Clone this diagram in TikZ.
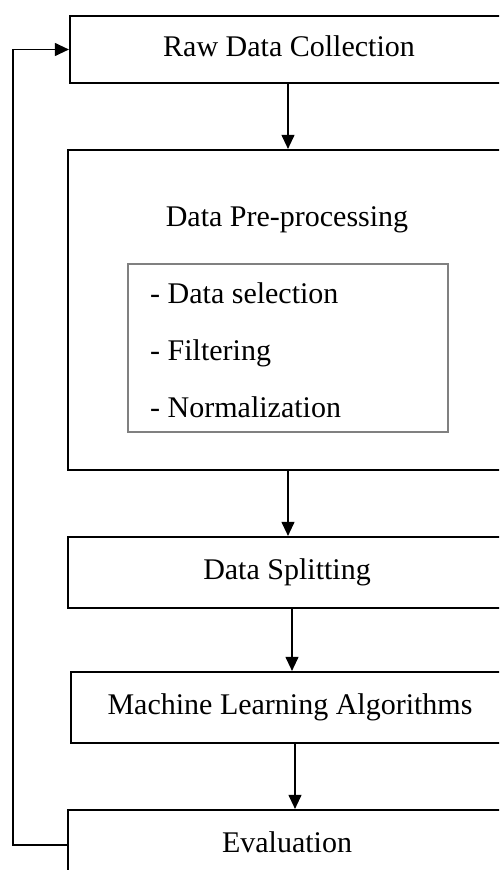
\documentclass[tikz,border=0pt]{standalone}
\usepackage{fontspec}
\setmainfont{Liberation Serif}
\usetikzlibrary{arrows.meta}
\begin{document}
\begin{tikzpicture}[x=1pt,y=-1pt,
  box/.style={draw=black, line width=2.2pt, minimum width=438pt, inner sep=0pt,
    text height=21pt, text depth=7pt, font=\fontsize{30}{36}\selectfont},
  txt/.style={inner sep=0pt, font=\fontsize{30}{36}\selectfont},
  conn/.style={line width=1.1pt, -{Triangle[width=13pt,length=14pt]}}]
\useasboundingbox (0,0) rectangle (499,870);
\clip (0,0) rectangle (499,870);
\fill[white] (0,0) rectangle (499,870);
\node[box, minimum height=67pt] (raw) at (289,49.5) {Raw Data Collection};
\node[box, minimum height=320pt] (pre) at (287,310) {};
\node[txt, anchor=base] (pret) at (287,226) {Data Pre-processing};
\node[draw=gray, line width=1.5pt, minimum width=320pt, minimum height=168pt, inner sep=0pt] (sub) at (288,348) {};
\node[txt, anchor=base west] (s1) at (150,303) {- Data selection};
\node[txt, anchor=base west] (s2) at (150,360) {- Filtering};
\node[txt, anchor=base west] (s3) at (150,417) {- Normalization};
\node[box, minimum height=71pt] (split) at (287,572.5) {Data Splitting};
\node[box, minimum height=71pt] (ml) at (290,707.5) {Machine Learning Algorithms};
\node[box, minimum height=70pt] (eval) at (287,845) {Evaluation};
\draw[conn] ([xshift=-1pt]raw.south) -- ([xshift=-1pt]raw.south |- pre.north);
\draw[conn] ([xshift=1pt]pre.south) -- ([xshift=1pt]pre.south |- split.north);
\draw[conn] ([xshift=5pt]split.south) -- ([xshift=5pt]split.south |- ml.north);
\draw[conn] ([xshift=5pt]ml.south) -- ([xshift=5pt]ml.south |- eval.north);
\coordinate (fb) at (13,845);
\draw[conn] (eval.west) -- (fb) |- (raw.west);
\end{tikzpicture}
\end{document}
